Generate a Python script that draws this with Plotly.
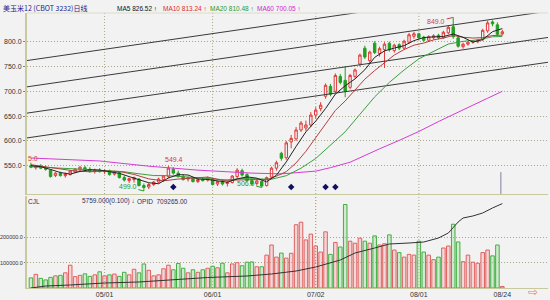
import plotly.graph_objects as go

# ---------------- data ----------------
dates = ["04-10","04-11","04-12","04-13","04-16","04-17","04-18","04-19","04-20","04-23",
         "04-24","04-25","04-26","04-27","04-30",
         "05-01","05-02","05-03","05-04","05-07","05-08","05-09","05-10","05-11","05-14",
         "05-15","05-16","05-17","05-18","05-21","05-22","05-23","05-24","05-25","05-29",
         "05-30","05-31",
         "06-01","06-04","06-05","06-06","06-07","06-08","06-11","06-12","06-13","06-14",
         "06-15","06-18","06-19","06-20","06-21","06-22","06-25","06-26","06-27","06-28","06-29",
         "07-02","07-03","07-05","07-06","07-09","07-10","07-11","07-12","07-13","07-16",
         "07-17","07-18","07-19","07-20","07-23","07-24","07-25","07-26","07-27","07-30","07-31",
         "08-01","08-02","08-03","08-06","08-07","08-08","08-09","08-10","08-13","08-14",
         "08-15","08-16","08-17","08-20","08-21","08-22","08-23","08-24"]

opens  = [550,546,549,545,541,530,535,530,532,537,542,546,543,538,541,
          538,540,533,536,526,520,522,523,510,507,512,517,522,528,543,535,528,523,525,518,522,521,
          524,513,518,514,516,528,540,532,520,514,518,510,527,545,575,566,598,604,622,626,632,652,
          665,690,710,700,730,722,708,730,755,787,762,797,776,784,797,782,794,787,799,811,
          816,809,803,808,813,808,818,830,808,790,795,799,800,804,822,840,834,816]
highs  = [556,551,553,550,543,537,538,536,541,545,549,550,547,544,545,
          543,542,540,538,530,526,528,525,514,515,519,526,531,549.4,547,540,533,528,527,525,526,528,
          526,520,521,519,531,545,544,535,524,522,520,528,548,560,578,600,612,628,640,641,658,668,
          678,716,715,736,735,751,735,746,776,792,782,801,790,799,800,796,797,804,818,820,
          818,812,813,815,816,822,833,849,812,798,801,803,805,826,842,843,839,824]
lows   = [545,542,543,540,526,527,528,526,530,535,539,540,536,534,536,
          533,530,530,524,518,515,516,508,499,503,509,514,518,525,532,526,520,518,516,515,518,518,
          510,509,510,508,514,525,528,518,510,510,506,508,524,540,560,562,585,600,618,620,628,645,
          660,685,690,696,714,688,704,726,750,765,756,775,770,747,780,778,783,784,796,806,
          805,800,800,804,805,806,815,806,788,786,792,796,797,802,818,831,812,813]
closes = [547,549,545,543,528,535,530,533,539,543,547,542,538,541,538,
          540,532,537,526,521,524,526,510,506,512,517,523,529,545,535,528,522,526,518,522,520,525,
          512,518,513,516,529,541,531,520,513,519,509,526,545,556,565,596,605,622,636,632,652,662,
          672,712,694,732,718,700,732,743,773,769,779,778,786,795,784,793,787,801,814,816,
          808,803,810,812,808,819,829,810,791,795,799,801,803,823,838,836,815,820]
volumes = [40000,54000,38000,32000,42000,48000,50000,60000,90000,45000,50000,56000,46000,52000,64000,
           48000,52000,55000,46000,62000,52000,74000,60000,95000,70000,48000,52000,76000,90000,72000,
           97000,78000,60000,72000,62000,72000,78000,
           86000,80000,98000,60000,95000,100000,88000,102000,103000,84000,84000,130000,170000,122000,
           138000,118000,137000,250000,260000,190000,213000,
           166000,142000,222000,133000,180000,162000,330000,185000,177000,197000,185000,177000,206000,
           170000,175000,210000,150000,140000,122000,133000,130000,
           185000,142000,130000,112000,122000,158000,166000,252000,182000,104000,130000,102000,98000,
           140000,150000,127000,170000,5759]

ma5_dates = ["04-10","04-12","04-16","04-18","04-20","04-24","04-26","04-30","05-02","05-04","05-08",
             "05-10","05-14","05-16","05-18","05-22","05-24","05-29","05-31","06-04","06-06","06-08",
             "06-12","06-14","06-18","06-20","06-22","06-26","06-28","07-02","07-05","07-09","07-11",
             "07-13","07-17","07-19","07-23","07-25","07-27","07-31","08-02","08-06","08-08","08-10",
             "08-14","08-16","08-20","08-22","08-24"]
ma5_vals = [550,548,542.4,536.2,533,538.4,541.8,541.2,537.8,534.6,528,521.4,515.6,513.6,525.2,532,
            531.2,523.2,522.2,519.4,516.8,523.4,527.4,524.8,517.4,531,557.6,588.8,618.2,640,665.2,
            694.4,711.2,725,743.4,768.4,781.4,787.2,792,802.2,808.4,809.8,810.4,815.6,808.8,799.2,
            804.2,820.2,826.5]
ma10_dates = ["04-10","04-13","04-18","04-23","04-26","05-01","05-04","05-09","05-14","05-17","05-22",
              "05-25","05-31","06-05","06-08","06-13","06-18","06-20","06-22","06-26","06-28","07-02",
              "07-05","07-09","07-11","07-13","07-17","07-19","07-23","07-25","07-27","07-31","08-02",
              "08-06","08-08","08-10","08-14","08-16","08-20","08-22","08-24"]
ma10_vals = [552,548,543,539.2,537.8,539.1,538.4,532.3,523.4,519.4,523.1,525.5,527,520.4,521.4,521.8,
             521.7,528.9,538,555.6,579,607,635.7,661.5,680.6,701.7,724.5,741.8,757.3,773.2,784.2,793,
             797.3,803.6,807.4,812.6,809,807.4,808.2,812.5,813.2]
ma20_dates = ["04-10","04-17","04-24","05-01","05-07","05-10","05-15","05-18","05-23","05-29","06-01",
              "06-06","06-11","06-14","06-19","06-22","06-27","07-02","07-06","07-11","07-16","07-19",
              "07-24","07-27","08-01","08-06","08-09","08-14","08-17","08-22","08-24"]
ma20_vals = [548,546,543,540,537.7,533.7,530.1,529.9,527.5,525,522.4,521.2,524.1,524.1,522.7,529.8,
             544.9,564.5,590.5,618.4,653.6,688.7,718,743,765.5,780,795.3,800.7,803.8,810,810.5]
ma60_dates = ["04-10","04-19","04-30","05-14","05-29","06-13","06-21","07-02","07-06","07-12","07-17",
              "07-20","07-26","08-01","08-07","08-13","08-16","08-21","08-24"]
ma60_vals = [565.5,562.5,559.5,549,541,535,533.5,539,546,557,571,584,601,619,639,657,672,686,700]

oi_dates = ["04-10","04-13","04-20","05-01","05-10","05-21","05-31","06-12","06-19","06-26","07-02",
            "07-10","07-13","07-19","07-24","07-30","08-02","08-07","08-09","08-13","08-14","08-16",
            "08-20","08-22","08-24"]
oi_vals = [434000,440500,443800,450300,453600,461700,468200,473100,479700,489400,502500,525300,548100,
           564400,577500,580700,584000,597000,613300,649200,662300,668800,678600,694900,709265]

channel_left = [762, 709, 656, 606]     # value of each trend line at the left edge
channel_right = [916, 863, 810, 760]    # value at the right edge

signal_dates = ["05-21", "06-25", "07-05", "07-09"]
signal_level = 507

tick_dates = ["05-01", "06-01", "07-02", "08-01", "08-24"]
tick_text = ["05/01", "06/01", "07/02", "08/01", "08/24"]
grid_dates = ["05-01", "06-01", "07-02", "08-01"]
price_ticks = [550, 600, 650, 700, 750, 800]
vol_ticks = [100000, 200000]

# ---------------- figure ----------------
BG = "#f2f2f2"
AX = "#c9c99f"
GRID = "#aaa888"
UP = "#e03a3a"
DOWN = "#22a022"
pos = {d: i for i, d in enumerate(dates)}
xs = list(range(len(dates)))
XMIN, XMAX = -0.8, 105.3

fig = go.Figure()

for a, b in zip(channel_left, channel_right):
    fig.add_trace(go.Scatter(x=[XMIN, XMAX + 1], y=[a, b], mode="lines",
                             line=dict(color="#3a3a3a", width=1), hoverinfo="skip",
                             xaxis="x", yaxis="y", cliponaxis=True))

fig.add_trace(go.Candlestick(
    x=xs, open=opens, high=highs, low=lows, close=closes,
    increasing=dict(line=dict(color=UP, width=1), fillcolor=BG),
    decreasing=dict(line=dict(color=DOWN, width=1), fillcolor=DOWN),
    whiskerwidth=0, xaxis="x", yaxis="y", hoverinfo="skip"))

for dts, vals, col in [(ma60_dates, ma60_vals, "#d43cd4"), (ma20_dates, ma20_vals, "#3aa03a"),
                       (ma10_dates, ma10_vals, "#b34040"), (ma5_dates, ma5_vals, "#222222")]:
    fig.add_trace(go.Scatter(x=[pos[d] for d in dts], y=vals, mode="lines",
                             line=dict(color=col, width=1), hoverinfo="skip",
                             xaxis="x", yaxis="y"))

fig.add_trace(go.Scatter(x=[pos[d] for d in signal_dates], y=[signal_level] * len(signal_dates),
                         mode="markers", marker=dict(symbol="diamond", size=5, color="#101060"),
                         hoverinfo="skip", xaxis="x", yaxis="y"))

up = [c >= o for o, c in zip(opens, closes)]
fig.add_trace(go.Bar(
    x=xs, y=volumes, width=0.72,
    marker=dict(color=["rgba(240,170,170,0.35)" if u else "rgba(150,215,150,0.35)" for u in up],
                line=dict(color=["#e06060" if u else "#40b040" for u in up], width=1)),
    hoverinfo="skip", xaxis="x2", yaxis="y2"))

fig.add_trace(go.Scatter(x=[pos[d] for d in oi_dates], y=oi_vals, mode="lines",
                         line=dict(color="#333333", width=1), hoverinfo="skip",
                         xaxis="x2", yaxis="y3"))

shapes = []
for d in grid_dates:
    shapes.append(dict(type="line", xref="x", yref="y domain", x0=pos[d], x1=pos[d], y0=0, y1=1,
                       line=dict(color=GRID, width=1, dash="1px,2px"), layer="below"))
    col = "#e07030" if d == "07-02" else GRID
    shapes.append(dict(type="line", xref="x2", yref="y2 domain", x0=pos[d], x1=pos[d], y0=0, y1=1,
                       line=dict(color=col, width=1, dash="1px,2px"),
                       layer="above" if d == "07-02" else "below"))
# marker line at the last bar
shapes.append(dict(type="line", xref="x", yref="y", x0=pos["08-24"] - 0.3, x1=pos["08-24"] - 0.3,
                   y0=493, y1=537, line=dict(color="#8080a0", width=1)))
# header separator
shapes.append(dict(type="line", xref="paper", yref="paper", x0=0, x1=1, y0=1, y1=1,
                   line=dict(color="#dcdcc8", width=1)))


def px(xp):
    return (xp - 27) / 521


def py(yp):
    return (288 - yp) / 275


FONT = "Liberation Sans, Arial, sans-serif"
ann = []


def txt(x, y, s, color, size=7, anchor="left", family=FONT):
    ann.append(dict(x=px(x), y=py(y), xref="paper", yref="paper", text=s, showarrow=False,
                    xanchor=anchor, yanchor="middle", borderpad=0,
                    font=dict(size=size, color=color, family=family)))


txt(2, 8, "美玉米12 (CBOT 3232)日线", "#22228a", size=7, family="Noto Sans CJK SC, sans-serif")
txt(116, 8, "MA5 826.52 ↑", "#111111", size=6.5)
txt(162, 8, "MA10 813.24 ↑", "#dd2a2a", size=6.5)
txt(209, 8, "MA20 810.48 ↑", "#2a9a2a", size=6.5)
txt(256, 8, "MA60 700.05 ↑", "#cc2acc", size=6.5)
txt(27, 201, "CJL", "#303060", size=6.5)
txt(81, 201, "5759.000(0.100) ↓", "#303060", size=6.5)
txt(136, 201, "OPID  709265.00", "#303060", size=6.5)
txt(27, 158, "5.0", "#dd3a3a", size=7)
txt(533, 292, "⇨", "#e08080", size=12, anchor="center", family="DejaVu Sans")

# high / low labels
ann.append(dict(x=pos["08-10"], y=849, xref="x", yref="y", text="849.0", showarrow=True,
                arrowhead=0, arrowwidth=1, arrowcolor="#d04040", ax=-17, ay=4,
                font=dict(size=7, color="#d04040", family=FONT)))
ann.append(dict(x=pos["05-18"], y=549.4, xref="x", yref="y", text="549.4", showarrow=False,
                xshift=6, yshift=6, font=dict(size=7, color="#d04040", family=FONT)))
ann.append(dict(x=pos["05-11"], y=499, xref="x", yref="y", text="499.0", showarrow=True,
                arrowhead=0, arrowwidth=1, arrowcolor="#2a9a2a", ax=-16, ay=-4,
                font=dict(size=7, color="#2a9a2a", family=FONT)))
ann.append(dict(x=pos["06-15"], y=506, xref="x", yref="y", text="506.0", showarrow=True,
                arrowhead=0, arrowwidth=1, arrowcolor="#2a9a2a", ax=-16, ay=-4,
                font=dict(size=7, color="#2a9a2a", family=FONT)))

tickfont = dict(size=7, color="#333333", family=FONT)
vtickfont = dict(size=5.5, color="#333333", family=FONT)
fig.update_layout(
    width=550, height=300, margin=dict(l=27, r=2, t=13, b=12, autoexpand=False),
    paper_bgcolor=BG, plot_bgcolor=BG, showlegend=False,
    xaxis=dict(domain=[0, 1], range=[XMIN, XMAX], anchor="y", showticklabels=False, showgrid=False,
               zeroline=False, rangeslider=dict(visible=False), showline=True, linecolor=AX,
               linewidth=1, automargin=False),
    yaxis=dict(domain=[py(194), 1], range=[492.9, 857.9], tickvals=price_ticks,
               ticktext=[f"{v:.1f}" for v in price_ticks], showgrid=True, gridcolor=GRID,
               griddash="1px,2px", gridwidth=1, showline=True, linecolor=AX, linewidth=2,
               ticks="outside", ticklen=2, tickcolor="#888866", tickfont=tickfont, zeroline=False,
               automargin=False),
    xaxis2=dict(domain=[0, 1], range=[XMIN, XMAX], anchor="y2", matches="x",
                tickvals=[pos[d] for d in tick_dates], ticktext=tick_text, showgrid=False,
                showline=True, linecolor=AX, linewidth=1, ticks="", tickfont=tickfont,
                zeroline=False, automargin=False),
    yaxis2=dict(domain=[0, py(196)], range=[0, 363600], tickvals=vol_ticks,
                ticktext=[f"{v:.1f}" for v in vol_ticks], showgrid=True, gridcolor=GRID,
                griddash="1px,2px", gridwidth=1, showline=True, linecolor=AX, linewidth=2,
                ticks="outside", ticklen=1, tickcolor="#888866", tickfont=vtickfont,
                zeroline=False, automargin=False),
    yaxis3=dict(overlaying="y2", anchor="x2", range=[434000, 734000], visible=False,
                automargin=False),
    shapes=shapes, annotations=ann, bargap=0.3,
)

fig.write_html("out.html")
